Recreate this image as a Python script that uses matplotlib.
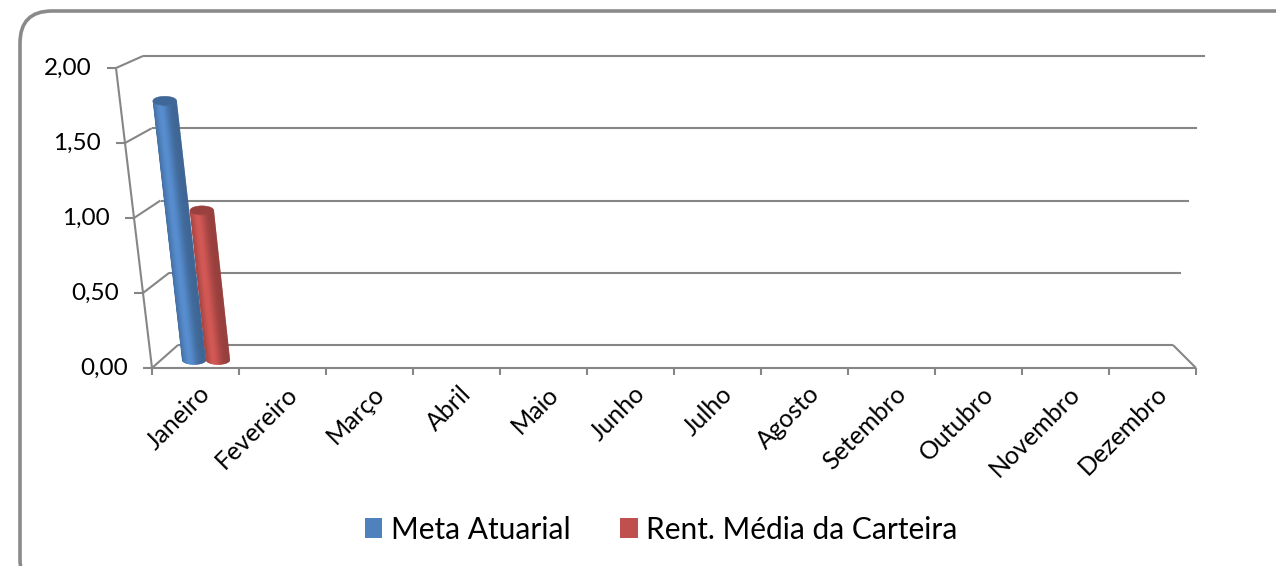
import numpy as np
import matplotlib.pyplot as plt
from matplotlib.patches import Polygon, Ellipse, FancyBboxPatch, Patch

months = ['Janeiro', 'Fevereiro', 'Março', 'Abril', 'Maio', 'Junho',
          'Julho', 'Agosto', 'Setembro', 'Outubro', 'Novembro', 'Dezembro']
meta_atuarial = [1.75] + [np.nan] * 11
rent_carteira = [1.01] + [np.nan] * 11
series_names = ['Meta Atuarial', 'Rent. Média da Carteira']
yticks = [0.0, 0.5, 1.0, 1.5, 2.0]

blue = '#4F81BD'
red = '#C0504D'
grid_col = '#868686'
FONT = 'Lato'

W, H = 1276, 566
fig = plt.figure(figsize=(W / 100, H / 100), dpi=100)
ax = fig.add_axes([0, 0, 1, 1])
ax.set_xlim(0, W)
ax.set_ylim(H, 0)
ax.axis('off')


# perspective box of the 3D plot (pixel space), v = value, u = across, d = depth
def front_left(v):
    return np.array([152 - 18 * v, 368 - 150 * v])

def front_right(v):
    return np.array([1196 + 16 * v, 368 - 150 * v])

def back_left(v):
    return np.array([178 - 17.5 * v, 345 - 144.5 * v])

def back_right(v):
    return np.array([1173 + 16 * v, 345 - 144.5 * v])

def proj(u, v, d):
    f = front_left(v) + (front_right(v) - front_left(v)) * u
    b = back_left(v) + (back_right(v) - back_left(v)) * u
    return f + (b - f) * d


def line(p, q, lw=1.5):
    ax.plot([p[0], q[0]], [p[1], q[1]], color=grid_col, lw=lw,
            solid_capstyle='butt')


# outer rounded frame
ax.add_patch(FancyBboxPatch((20, 11), 1290, 580,
                            boxstyle='round,pad=0,rounding_size=32',
                            fc='white', ec='#8a8a8a', lw=2.6, zorder=0))

# walls, gridlines and axes
for v in yticks:
    line(back_left(v), back_right(v))
    line(front_left(v), back_left(v))
    fl = front_left(v)
    line(fl, fl + np.array([-9, 0]))
    ax.text(fl[0] - 24, fl[1], f'{v:.2f}'.replace('.', ','), ha='right',
            va='center', fontsize=17.5, family=FONT, color='black')
line(front_left(0), front_left(yticks[-1]))
line(front_left(0), front_right(0))
line(front_right(0), back_right(0))

n = len(months)
for k in range(n + 1):
    p = proj(k / n, 0, 0)
    line(p, p + np.array([0, 7]))
for k, m in enumerate(months):
    p = proj((k + 0.5) / n, 0, 0)
    ax.text(p[0] + 3, p[1] + 14, m, rotation=45, rotation_mode='anchor',
            ha='right', va='top', fontsize=18, family=FONT, color='black')


def shade(base, s):
    c = np.array(plt.matplotlib.colors.to_rgb(base))
    m = 0.78 + 0.32 * np.exp(-((s + 0.3) / 0.6) ** 2)
    return np.clip(c * m, 0, 1)


def cylinder(bottom, top, r, e, base):
    s = np.linspace(-1, 1, 41)
    for k in range(len(s) - 1):
        s0, s1 = s[k], s[k + 1]
        col = shade(base, (s0 + s1) / 2)
        h0, h1 = e * np.sqrt(1 - s0 ** 2), e * np.sqrt(1 - s1 ** 2)
        pts = [(bottom[0] + r * s0, bottom[1] + h0),
               (bottom[0] + r * s1, bottom[1] + h1),
               (top[0] + r * s1, top[1] + h1),
               (top[0] + r * s0, top[1] + h0)]
        ax.add_patch(Polygon(pts, closed=True, fc=col, ec=col, lw=0.4,
                             zorder=3))
    top_col = np.clip(np.array(plt.matplotlib.colors.to_rgb(base)) * 0.8, 0, 1)
    ax.add_patch(Ellipse(top, 2 * r, 2 * e, fc=top_col, ec=top_col, lw=0.4,
                         zorder=4))


depth = 0.35
offsets = [0.385, 0.665]
for series, off, col in zip([meta_atuarial, rent_carteira], offsets, [blue, red]):
    for i, val in enumerate(series):
        if np.isnan(val):
            continue
        u = (i + off) / n
        b = proj(u, 0, depth)
        t = proj(u, val, depth)
        catw = proj((i + 1) / n, 0, depth)[0] - proj(i / n, 0, depth)[0]
        cylinder(b, t, 0.138 * catw, 4.5, col)

handles = [Patch(fc=blue, ec='none'), Patch(fc=red, ec='none')]
ax.legend(handles, series_names, loc='center', ncol=2,
          bbox_to_anchor=(0.518, 0.064), frameon=False,
          prop={'family': FONT, 'size': 21.5}, handlelength=0.6,
          handleheight=0.65, handletextpad=0.28, columnspacing=1.65)

fig.savefig('out.png', dpi=100)
